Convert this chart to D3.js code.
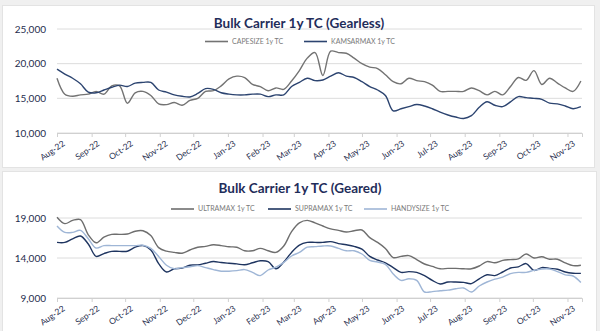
<!DOCTYPE html>
<html>
<head>
<meta charset="utf-8">
<script src="https://cdn.jsdelivr.net/npm/d3@7"></script>
<style>
  html, body { margin: 0; padding: 0; background: #f0f0f0; }
  svg { display: block; font-family: Lato, "Open Sans", sans-serif; }
</style>
</head>
<body>
<svg id="chart" width="600" height="331"></svg>
<script>
const dates = [
  "2022-08-01","2022-08-08","2022-08-15","2022-08-22","2022-08-29",
  "2022-09-05","2022-09-12","2022-09-19","2022-09-26",
  "2022-10-03","2022-10-10","2022-10-17","2022-10-24","2022-10-31",
  "2022-11-07","2022-11-14","2022-11-21","2022-11-28",
  "2022-12-05","2022-12-12","2022-12-19","2022-12-26",
  "2023-01-02","2023-01-09","2023-01-16","2023-01-23","2023-01-30",
  "2023-02-06","2023-02-13","2023-02-20","2023-02-27",
  "2023-03-06","2023-03-13","2023-03-20","2023-03-27",
  "2023-04-03","2023-04-10","2023-04-17","2023-04-24",
  "2023-05-01","2023-05-08","2023-05-15","2023-05-22","2023-05-29",
  "2023-06-05","2023-06-12","2023-06-19","2023-06-26",
  "2023-07-03","2023-07-10","2023-07-17","2023-07-24","2023-07-31",
  "2023-08-07","2023-08-14","2023-08-21","2023-08-28",
  "2023-09-04","2023-09-11","2023-09-18","2023-09-25",
  "2023-10-02","2023-10-09","2023-10-16","2023-10-23","2023-10-30",
  "2023-11-06","2023-11-13"
];

const capesize = [
  17900,15600,15300,15500,15600,16000,15600,16800,16800,14300,
  15800,16000,15400,14200,14100,14400,14000,14700,15000,16000,
  16100,16800,17800,18200,18000,17000,16700,16100,16500,16300,
  17500,19000,20800,21600,18300,21800,21600,21500,20800,20000,
  19500,19300,18400,17400,17100,17900,17550,17400,16900,16000,
  16000,16000,16000,16500,16100,15500,16000,15500,16700,18000,
  17600,19000,17000,17900,17200,16500,16000,17500
];
const kamsarmax = [
  19200,18500,17900,17100,15900,15800,16200,16600,16900,16700,
  17200,17300,17300,16200,15900,15500,15300,15200,15700,16400,
  16300,15800,15600,15500,15500,15600,15600,15250,15500,15500,
  16700,17300,17900,17550,17650,18200,18700,18200,18000,17400,
  16700,16200,15400,13200,13500,13800,14100,13900,13500,13000,
  12600,12300,12100,12500,13700,14500,14000,13800,14500,15250,
  15100,15000,14850,14300,14200,13900,13500,13800
];

const ultramax = [
  19100,18300,18700,18800,16900,15900,16600,16950,16950,17000,
  17350,17400,16800,15300,14850,14700,14600,15000,15350,15450,
  15650,15550,15400,15350,14900,14900,15200,14900,14700,15500,
  17300,18400,18700,18400,18000,17650,17450,17250,17400,17500,
  16550,15950,15200,14050,14200,14300,13800,13250,12950,12650,
  12700,12700,12650,12650,13000,13550,13400,13700,13800,13900,
  14500,14000,14150,13850,13850,13400,13050,13100
];
const supramax = [
  15950,15950,16400,16750,15750,14200,14550,14830,14830,14850,
  15350,15550,15000,13300,12250,12650,12730,13100,13130,13350,
  13560,13430,13340,13260,13150,13400,13650,13550,12650,13500,
  14700,15600,15950,15950,15950,16050,15800,15650,15450,15100,
  14200,13750,13400,12800,12200,12300,12200,11800,11200,10750,
  11000,11000,10950,10800,11400,11900,11800,12250,12750,12900,
  13300,12450,12800,12700,12600,12250,12100,12080
];
const handysize = [
  18000,17200,17200,17450,16400,15250,15550,15550,15550,15550,
  15550,15600,15200,14200,13100,12650,12800,12900,13050,12800,
  12550,12350,12350,12420,12550,12200,11800,12500,12850,13450,
  14250,14700,15350,15420,15500,15500,15200,14900,14900,14500,
  13700,13500,13200,12000,11200,11400,11200,9750,9800,9900,
  9980,10150,10250,9750,10500,11000,11350,11600,12050,12200,
  12200,12450,12620,12620,12300,11900,11750,10950
];

const monthTicks = ["2022-08-01","2022-09-01","2022-10-01","2022-11-01","2022-12-01",
  "2023-01-01","2023-02-01","2023-03-01","2023-04-01","2023-05-01","2023-06-01",
  "2023-07-01","2023-08-01","2023-09-01","2023-10-01","2023-11-01"];
const gearlessTicks = [10000, 15000, 20000, 25000];
const gearedTicks = [9000, 14000, 19000];

const parse = d3.timeParse("%Y-%m-%d");
const fmtMonth = d3.timeFormat("%b-%y");
const fmtNum = d3.format(",");
const dateObjs = dates.map(parse);

const svg = d3.select("#chart");

function panel(cfg) {
  const g = svg.append("g");
  g.append("rect")
    .attr("x", cfg.box[0]).attr("y", cfg.box[1])
    .attr("width", cfg.box[2]).attr("height", cfg.box[3])
    .attr("fill", "#ffffff").attr("stroke", "#e3e3e3");

  const x = d3.scaleTime()
    .domain([parse("2022-08-01"), parse("2023-11-14")])
    .range([57, 582]);
  const y = d3.scaleLinear().domain(cfg.yDomain).range(cfg.yRange);

  g.append("g").selectAll("line").data(cfg.yTicks).join("line")
    .attr("x1", 57).attr("x2", 582)
    .attr("y1", d => y(d)).attr("y2", d => y(d))
    .attr("stroke", "#dcdcdc").attr("stroke-width", 1);

  g.append("g").selectAll("text").data(cfg.yTicks).join("text")
    .attr("x", 46).attr("y", d => y(d)).attr("dy", "0.35em")
    .attr("text-anchor", "end")
    .attr("font-size", 10).attr("fill", "#1f2d4e")
    .text(d => fmtNum(d));

  const xAxis = d3.axisBottom(x)
    .tickValues(monthTicks.map(parse))
    .tickSize(4)
    .tickFormat(fmtMonth);
  const ax = g.append("g")
    .attr("transform", `translate(0,${cfg.yRange[0]})`)
    .call(xAxis);
  ax.select(".domain").attr("stroke", "#d0d0d0");
  ax.selectAll(".tick line").attr("stroke", "#d0d0d0");
  ax.selectAll(".tick text")
    .attr("font-family", "Lato, 'Open Sans', sans-serif")
    .attr("font-size", 8.5).attr("fill", "#1f2d4e")
    .attr("text-anchor", "end")
    .attr("transform", "translate(1,2) rotate(-35)")
    .attr("dy", "0.6em").attr("dx", "0");

  const line = d3.line()
    .x((d, i) => x(dateObjs[i]))
    .y(d => y(d))
    .curve(d3.curveCatmullRom.alpha(0.5));
  cfg.series.forEach(s => {
    g.append("path")
      .datum(s.values)
      .attr("fill", "none")
      .attr("stroke", s.color)
      .attr("stroke-width", 1.4)
      .attr("d", line);
  });

  g.append("text")
    .attr("x", cfg.titleX).attr("y", cfg.titleY)
    .attr("text-anchor", "middle")
    .attr("font-size", 13.5).attr("font-weight", "bold")
    .attr("fill", "#1f2d5a")
    .text(cfg.title);

  cfg.series.forEach(s => {
    g.append("line")
      .attr("x1", s.lx).attr("x2", s.lx + 23)
      .attr("y1", cfg.legendY).attr("y2", cfg.legendY)
      .attr("stroke", s.color).attr("stroke-width", 1.6);
    g.append("text")
      .attr("x", s.lx + 27).attr("y", cfg.legendY).attr("dy", "0.35em")
      .attr("font-size", 7).attr("fill", "#7a7a7a")
      .text(s.name);
  });
}

panel({
  box: [2.5, 5.5, 592, 162],
  yDomain: [10000, 25000], yRange: [133, 29],
  yTicks: gearlessTicks,
  title: "Bulk Carrier 1y TC (Gearless)", titleX: 299, titleY: 28,
  legendY: 41.5,
  series: [
    { name: "CAPESIZE 1y TC", values: capesize, color: "#737373", lx: 205 },
    { name: "KAMSARMAX 1y TC", values: kamsarmax, color: "#2c4470", lx: 304 }
  ]
});

panel({
  box: [2.5, 171.5, 594, 160],
  yDomain: [9000, 19000], yRange: [298, 218],
  yTicks: gearedTicks,
  title: "Bulk Carrier 1y TC (Geared)", titleX: 300, titleY: 193,
  legendY: 209,
  series: [
    { name: "ULTRAMAX 1y TC", values: ultramax, color: "#6e6e6e", lx: 171 },
    { name: "SUPRAMAX 1y TC", values: supramax, color: "#1f3560", lx: 268 },
    { name: "HANDYSIZE 1y TC", values: handysize, color: "#9fb6d6", lx: 364 }
  ]
});
</script>
</body>
</html>
